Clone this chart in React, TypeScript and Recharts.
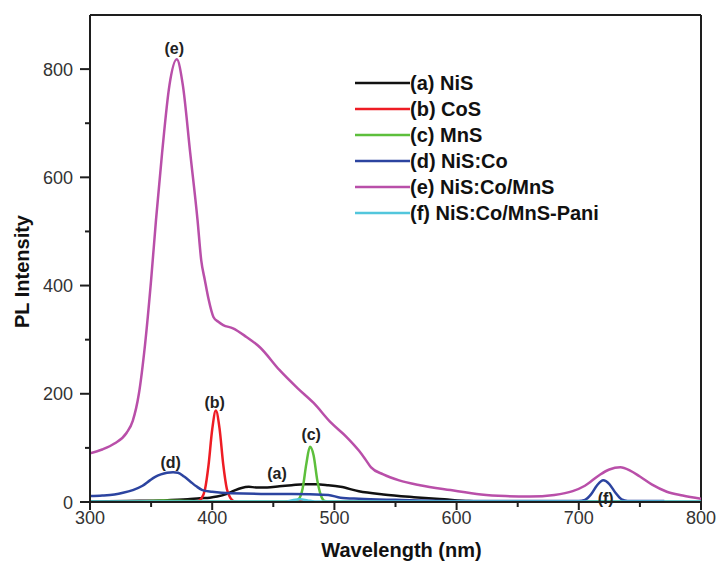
import {
  LineChart,
  Line,
  XAxis,
  YAxis,
  Legend,
  ReferenceLine,
  ReferenceDot,
} from "recharts";

// wavelength (nm) and PL intensity
const nisWl = [300, 330, 360, 380, 390, 398, 404, 412, 418, 424, 430, 436, 445, 455, 465, 475, 485, 495, 505, 520, 540, 565, 590, 610, 640, 700, 800];
const nisVal = [1, 2, 3, 5, 7, 8, 10, 15, 21, 26, 28, 27, 27, 29, 31, 33, 33, 31, 28, 20, 14, 9, 5, 2, 1, 0, 0];

const cosWl = [385, 388, 391, 394, 397, 400, 403, 406, 409, 412, 415, 418, 421, 440, 460, 466, 472, 478, 482];
const cosVal = [0, 1, 6, 22, 68, 134, 169, 136, 70, 24, 7, 1, 0, null, 0, 2, 2, 1, 0];

const mnsWl = [300, 340, 360, 380, 400, 440, 465, 468, 471, 474, 477, 480, 483, 486, 489, 492, 496, 600, 720, 800];
const mnsVal = [0, 1, 3, 2, 1, 1, 1, 2, 6, 25, 70, 102, 86, 40, 12, 2, 1, 1, 1, 0];

const niscoWl = [300, 310, 320, 327, 335, 343, 349, 353, 358, 363, 368, 372, 377, 382, 387, 392, 400, 415, 440, 465, 495, 505, 520, 550, 600, 650, 700, 705, 710, 715, 720, 725, 730, 735, 740, 770];
const niscoVal = [11, 12, 14, 17, 22, 30, 40, 46, 51, 54, 55, 54, 47, 38, 29, 22, 19, 16, 15, 15, 13, 8, 6, 4, 2, 2, 2, 4, 14, 31, 40, 33, 17, 5, 2, 2];

const mnsPaniWl = [300, 310, 320, 330, 335, 340, 345, 350, 354, 359, 365, 371, 376, 382, 388, 391, 394, 397, 401, 405, 409, 417, 428, 439, 455, 470, 483, 497, 510, 520, 525, 530, 540, 553, 570, 595, 620, 640, 660, 680, 695, 705, 717, 725, 734, 742, 750, 760, 772, 785, 800];
const mnsPaniVal = [90, 97, 108, 128, 150, 200, 290, 410, 521, 645, 770, 818, 770, 645, 521, 447, 410, 375, 342, 333, 327, 321, 305, 286, 244, 210, 183, 147, 120, 95, 80, 64, 51, 40, 31, 22, 14, 11, 10, 13, 20, 30, 50, 60, 64, 58, 47, 32, 19, 12, 6];

const paniWl = [300, 460, 465, 472, 478, 484, 800];
const paniVal = [1, 1, 3, 5, 3, 1, 1];

const seriesNames = ["(a) NiS", "(b) CoS", "(c) MnS", "(d) NiS:Co", "(e) NiS:Co/MnS", "(f) NiS:Co/MnS-Pani"];
const seriesColors = ["#111111", "#ee1c24", "#5dbf3c", "#2c44a0", "#b94fa9", "#52c6dc"];
const seriesWl = [nisWl, cosWl, mnsWl, niscoWl, mnsPaniWl, paniWl];
const seriesVal = [nisVal, cosVal, mnsVal, niscoVal, mnsPaniVal, paniVal];

// peak annotations, anchored in data units
const tagText = ["(a)", "(b)", "(c)", "(d)", "(e)", "(f)"];
const tagWl = [453, 402, 481, 366, 369, 722];
const tagVal = [53, 185, 126, 74, 839, 7];

const xTicks = [300, 350, 400, 450, 500, 550, 600, 650, 700, 750, 800];
const yTicks = [0, 100, 200, 300, 400, 500, 600, 700, 800];

const FONT = '"Liberation Sans", Arial, sans-serif';
const AXIS = "#1e1e1e";

const series = seriesNames.map((name, i) => ({
  name,
  color: seriesColors[i],
  data: seriesWl[i].map((wl, j) => ({ wl, v: seriesVal[i][j] })),
}));

const XTick = ({ x, y, payload }: any) => {
  const major = payload.value % 100 === 0;
  return (
    <g>
      <line x1={x} x2={x} y1={y} y2={y + (major ? 8 : 5)} stroke={AXIS} strokeWidth={2} />
      {major && (
        <text x={x} y={y + 22} textAnchor="middle" fontSize={18} fill="#333" fontFamily={FONT}>
          {payload.value}
        </text>
      )}
    </g>
  );
};

const YTick = ({ x, y, payload }: any) => {
  const major = payload.value % 200 === 0;
  return (
    <g>
      <line x1={x - (major ? 10 : 5)} x2={x} y1={y} y2={y} stroke={AXIS} strokeWidth={2} />
      {major && (
        <text x={x - 17} y={y + 6.5} textAnchor="end" fontSize={18} fill="#333" fontFamily={FONT}>
          {payload.value}
        </text>
      )}
    </g>
  );
};

const renderLegend = () => (
  <svg width={270} height={160}>
    {series.map((s, i) => (
      <g key={s.name}>
        <line x1={0} x2={55} y1={13 + i * 26} y2={13 + i * 26} stroke={s.color} strokeWidth={2.5} />
        <text x={55} y={20 + i * 26} fontSize={20} fontWeight="bold" fill="#111" fontFamily={FONT}>
          {s.name}
        </text>
      </g>
    ))}
  </svg>
);

const Tag = (text: string) => (props: any) => (
  <text
    x={props.cx}
    y={props.cy + 6}
    textAnchor="middle"
    fontSize={16}
    fontWeight="bold"
    fill="#222"
    fontFamily={FONT}
  >
    {text}
  </text>
);

export default function App() {
  return (
    <div style={{ position: "absolute", left: 0, top: 0, background: "#fff" }}>
      <LineChart
        width={717}
        height={563}
        margin={{ top: 15, right: 16, left: 0, bottom: 0 }}
      >
        <XAxis
          type="number"
          dataKey="wl"
          domain={[300, 800]}
          ticks={xTicks}
          interval={0}
          allowDataOverflow
          height={61}
          tickSize={0}
          tickMargin={0}
          tick={<XTick />}
          axisLine={{ stroke: AXIS, strokeWidth: 2 }}
          label={{
            content: ({ viewBox }: any) => (
              <text
                x={viewBox.x + viewBox.width / 2 + 6}
                y={viewBox.y + 55}
                textAnchor="middle"
                fontSize={20}
                fontWeight="bold"
                fill="#111"
                fontFamily={FONT}
              >
                Wavelength (nm)
              </text>
            ),
          }}
        />
        <YAxis
          type="number"
          domain={[0, 900]}
          ticks={yTicks}
          interval={0}
          allowDataOverflow
          width={90}
          tickSize={0}
          tickMargin={0}
          tick={<YTick />}
          axisLine={{ stroke: AXIS, strokeWidth: 2 }}
          label={{
            content: ({ viewBox }: any) => {
              const cx = 22;
              const cy = viewBox.y + viewBox.height / 2 + 13;
              return (
                <text
                  x={cx}
                  y={cy}
                  transform={`rotate(-90, ${cx}, ${cy})`}
                  textAnchor="middle"
                  dominantBaseline="central"
                  fontSize={20}
                  fontWeight="bold"
                  fill="#111"
                  fontFamily={FONT}
                >
                  PL Intensity
                </text>
              );
            },
          }}
        />
        <ReferenceLine y={900} stroke={AXIS} strokeWidth={2} />
        <ReferenceLine x={800} stroke={AXIS} strokeWidth={2} />

        {series.map((s) => (
          <Line
            key={s.name}
            data={s.data}
            dataKey="v"
            name={s.name}
            type="monotone"
            stroke={s.color}
            strokeWidth={2.5}
            dot={false}
            activeDot={false}
            connectNulls={false}
            isAnimationActive={false}
          />
        ))}

        {tagText.map((t, i) => (
          <ReferenceDot
            key={t}
            x={tagWl[i]}
            y={tagVal[i]}
            r={1}
            ifOverflow="visible"
            shape={Tag(t)}
          />
        ))}

        <Legend
          layout="vertical"
          align="center"
          verticalAlign="middle"
          wrapperStyle={{ left: 355, top: 70, width: 270 }}
          content={renderLegend}
        />
      </LineChart>
    </div>
  );
}
